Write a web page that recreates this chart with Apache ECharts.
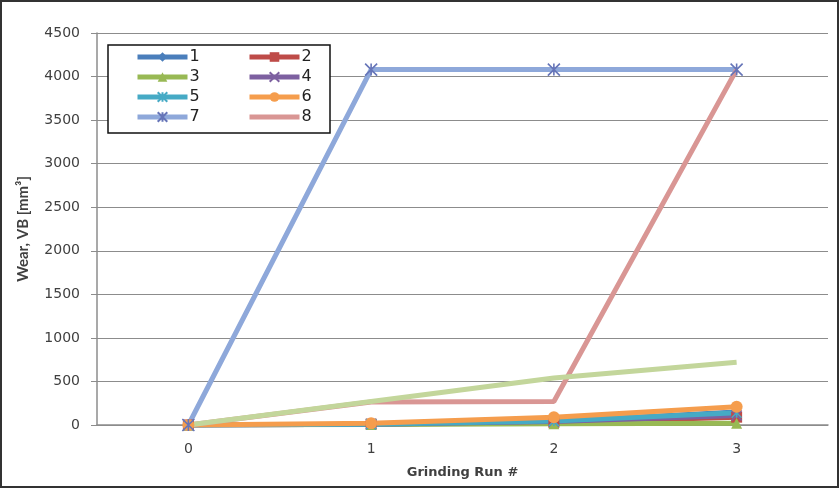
<!DOCTYPE html>
<html>
<head>
<meta charset="utf-8">
<script src="https://cdn.jsdelivr.net/npm/echarts@6/dist/echarts.min.js"></script>
<style>
  html, body { margin: 0; padding: 0; background: #fff; }
  #chart { width: 839px; height: 488px; }
</style>
</head>
<body>
<div id="chart"></div>
<script>
// Grinding runs and wear per tool
const runs = ['0', '1', '2', '3'];
const yTicks = [0, 500, 1000, 1500, 2000, 2500, 3000, 3500, 4000, 4500];

const wear1 = [0, 10, 40, 150];
const wear2 = [0, 10, 30, 90];
const wear3 = [0, 5, 15, 20];
const wear4 = [0, 10, 40, 110];
const wear5 = [0, 10, 45, 140];
const wear6 = [0, 20, 90, 210];
const wear7 = [0, 4080, 4080, 4080];
const wear8 = [0, 265, 270, 4080];
const wear9 = [0, 270, 540, 720];

const FONT = 'Lato';
const WIDE = 'DejaVu Sans';
const xMark = 'path://M0,0L10,10M10,0L0,10';
const starMark = 'path://M0,0L10,10M10,0L0,10M5,0L5,10';

function line(name, data, color, symbol, size, mark) {
  const s = {
    name: name,
    type: 'line',
    data: data,
    symbol: symbol,
    symbolSize: size,
    showSymbol: symbol !== 'none',
    lineStyle: { color: color, width: 5 },
    itemStyle: { color: color },
    emphasis: { disabled: true },
    z: 2
  };
  if (mark) {
    s.itemStyle = { color: 'none', borderColor: mark, borderWidth: 1.6 };
  }
  return s;
}

const legendBase = {
  orient: 'vertical',
  top: 44,
  itemWidth: 50, itemHeight: 12, itemGap: 4,
  lineStyle: { width: 5 },
  textStyle: { fontFamily: WIDE, fontSize: 16, color: '#222', padding: [0, 0, 0, -3] },
  selectedMode: false
};

const chart = echarts.init(document.getElementById('chart'));
chart.setOption({
  animation: false,
  backgroundColor: '#fff',
  grid: { left: 97, right: 11, top: 33, bottom: 63 },
  xAxis: {
    type: 'category',
    data: runs,
    boundaryGap: true,
    name: 'Grinding Run #',
    nameLocation: 'middle',
    nameGap: 41,
    nameTextStyle: { fontFamily: WIDE, fontSize: 13, fontWeight: 'bold', color: '#404040' },
    axisLine: { lineStyle: { color: '#8c8c8c', width: 1.5 } },
    axisTick: { show: false },
    axisLabel: { fontFamily: WIDE, fontSize: 14, color: '#404040', margin: 17 }
  },
  yAxis: {
    type: 'value',
    min: yTicks[0],
    max: yTicks[yTicks.length - 1],
    interval: yTicks[1] - yTicks[0],
    name: 'Wear, VB [mm³]',
    nameLocation: 'middle',
    nameGap: 66,
    nameTextStyle: { fontFamily: FONT, fontSize: 15, fontWeight: 'bold', color: '#404040' },
    axisLine: { show: true, lineStyle: { color: '#8c8c8c', width: 1.5 } },
    axisTick: { show: true, length: 6, lineStyle: { color: '#8c8c8c' } },
    axisLabel: { fontFamily: WIDE, fontSize: 14, color: '#404040', margin: 17, formatter: v => String(v) },
    splitLine: { lineStyle: { color: '#8c8c8c', width: 1.2 } }
  },
  legend: [
    Object.assign({ data: ['1', '3', '5', '7'], left: 130 }, legendBase),
    Object.assign({ data: ['2', '4', '6', { name: '8', itemStyle: { opacity: 0 } }], left: 242 }, legendBase)
  ],
  graphic: [
    { type: 'rect', shape: { x: 1, y: 1, width: 837, height: 486 }, style: { fill: 'none', stroke: '#333', lineWidth: 2 }, z: 100, silent: true },
    { type: 'rect', shape: { x: 108, y: 45, width: 222, height: 88 }, style: { fill: '#fff', stroke: '#111', lineWidth: 1.5 }, z: 3, silent: true }
  ],
  series: [
    line('1', wear1, '#4A7EBB', 'diamond', 10),
    line('2', wear2, '#BE4B48', 'rect', 11),
    line('3', wear3, '#98B954', 'triangle', 11),
    line('4', wear4, '#7D60A0', xMark, 10, '#7D60A0'),
    line('5', wear5, '#46AAC5', starMark, 10, '#46AAC5'),
    line('6', wear6, '#F59D4D', 'circle', 12),
    line('7', wear7, '#8EA8DA', starMark, 12, '#6675B8'),
    line('8', wear8, '#D99694', 'none', 0),
    line('9', wear9, '#C3D69B', 'none', 0)
  ]
});
</script>
</body>
</html>
